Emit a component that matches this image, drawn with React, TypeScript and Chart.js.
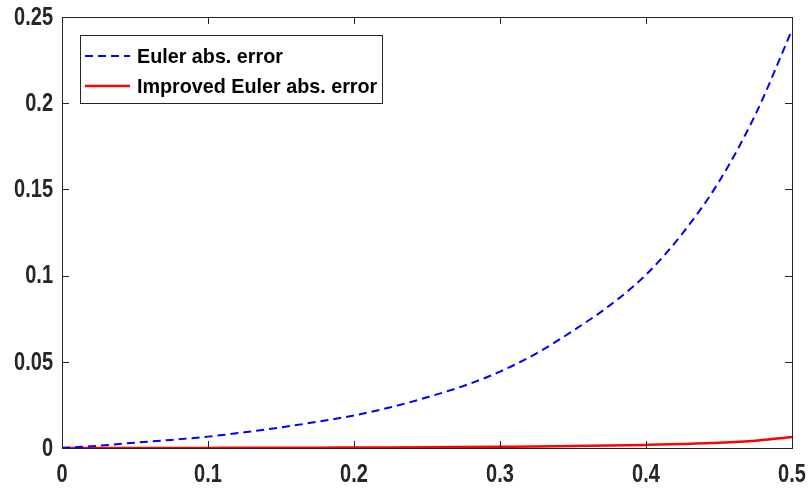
import React, { useEffect, useRef } from "react";
import { Chart, registerables } from "chart.js";

Chart.register(...registerables);

const xValues = [0, 0.025, 0.05, 0.075, 0.1, 0.125, 0.15, 0.175, 0.2, 0.225, 0.25, 0.275, 0.3, 0.325, 0.35, 0.375, 0.4, 0.425, 0.45, 0.475, 0.5];
const eulerError = [0, 0.0013, 0.0031, 0.0047, 0.0066, 0.0091, 0.012, 0.0152, 0.0189, 0.0236, 0.0294, 0.036, 0.0443, 0.0549, 0.068, 0.0826, 0.1005, 0.1245, 0.1545, 0.1935, 0.2425];
const improvedError = [0, 0.00001, 0.00002, 0.00004, 0.00007, 0.0001, 0.00014, 0.0002, 0.00027, 0.00035, 0.00045, 0.00057, 0.00071, 0.00087, 0.0011, 0.0014, 0.0018, 0.0023, 0.003, 0.0042, 0.0064];
const xTickLabels = ["0", "0.1", "0.2", "0.3", "0.4", "0.5"];
const yTickLabels = ["0", "0.05", "0.1", "0.15", "0.2", "0.25"];
const seriesLabels = ["Euler abs. error", "Improved Euler abs. error"];

const FONT = "'Liberation Sans', Arial, Helvetica, sans-serif";
const AXIS_COLOR = "#262626";
const TICK_FONT_SIZE = 25;
const TICK_SQUEEZE = 0.8;
const LEGEND_FONT_SIZE = 21;
const LEGEND_SQUEEZE = 0.94;

function squeezedText(ctx: CanvasRenderingContext2D, text: string, x: number, y: number, s: number) {
  ctx.save();
  ctx.translate(x, y);
  ctx.scale(s, 1);
  ctx.fillText(text, 0, 0);
  ctx.restore();
}

const boxPlugin = {
  id: "matlabBox",
  afterDraw(chart: any) {
    const { ctx, chartArea } = chart;
    const { left, right, top, bottom } = chartArea;
    const xs = chart.scales.x;
    const ys = chart.scales.y;
    ctx.save();
    ctx.strokeStyle = AXIS_COLOR;
    ctx.lineWidth = 1;
    const tl = 7;
    ctx.beginPath();
    xs.ticks.forEach((t: any) => {
      const px = Math.round(xs.getPixelForValue(t.value)) + 0.5;
      ctx.moveTo(px, bottom);
      ctx.lineTo(px, bottom - tl);
      ctx.moveTo(px, top);
      ctx.lineTo(px, top + tl);
    });
    ys.ticks.forEach((t: any) => {
      const py = Math.round(ys.getPixelForValue(t.value)) + 0.5;
      ctx.moveTo(left, py);
      ctx.lineTo(left + tl, py);
      ctx.moveTo(right, py);
      ctx.lineTo(right - tl, py);
    });
    ctx.stroke();
    ctx.strokeRect(Math.round(left) + 0.5, Math.round(top) + 0.5, Math.round(right - left), Math.round(bottom - top));

    // tick labels (narrow, tall MATLAB-style)
    ctx.fillStyle = AXIS_COLOR;
    ctx.font = `bold ${TICK_FONT_SIZE}px ${FONT}`;
    ctx.textBaseline = "middle";
    ctx.textAlign = "center";
    xs.ticks.forEach((t: any, i: number) => {
      const px = xs.getPixelForValue(t.value);
      squeezedText(ctx, xTickLabels[i] ?? String(t.value), px, bottom + 27, TICK_SQUEEZE);
    });
    ctx.textAlign = "right";
    ys.ticks.forEach((t: any, i: number) => {
      const py = ys.getPixelForValue(t.value);
      squeezedText(ctx, yTickLabels[i] ?? String(t.value), left - 9, py + 1, TICK_SQUEEZE);
    });

    // legend
    const lx = left + 18;
    const ly = top + 18;
    const lw = 302;
    const lh = 68;
    ctx.fillStyle = "#ffffff";
    ctx.fillRect(lx, ly, lw, lh);
    ctx.strokeStyle = AXIS_COLOR;
    ctx.lineWidth = 1;
    ctx.strokeRect(Math.round(lx) + 0.5, Math.round(ly) + 0.5, lw, lh);
    ctx.font = `bold ${LEGEND_FONT_SIZE}px ${FONT}`;
    ctx.textBaseline = "middle";
    ctx.textAlign = "left";
    chart.data.datasets.forEach((ds: any, i: number) => {
      const rowY = ly + 21 + i * 30;
      ctx.beginPath();
      ctx.strokeStyle = ds.borderColor;
      ctx.lineWidth = ds.borderWidth;
      ctx.setLineDash(ds.borderDash || []);
      ctx.moveTo(lx + 5, rowY);
      ctx.lineTo(lx + 50, rowY);
      ctx.stroke();
      ctx.setLineDash([]);
      ctx.fillStyle = "#000000";
      squeezedText(ctx, ds.label, lx + 57, rowY + 1, LEGEND_SQUEEZE);
    });
    ctx.restore();
  },
};

export default function App() {
  const canvasRef = useRef<HTMLCanvasElement | null>(null);

  useEffect(() => {
    document.body.style.margin = "0";
    const canvas = canvasRef.current;
    if (!canvas) return;
    const chart = new Chart(canvas, {
      type: "line",
      data: {
        datasets: [
          {
            label: seriesLabels[0],
            data: xValues.map((x, i) => ({ x, y: eulerError[i] })),
            borderColor: "#0000ff",
            borderWidth: 2,
            borderDash: [8, 5],
            pointRadius: 0,
            cubicInterpolationMode: "monotone",
            fill: false,
          },
          {
            label: seriesLabels[1],
            data: xValues.map((x, i) => ({ x, y: improvedError[i] })),
            borderColor: "#ff0000",
            borderWidth: 2.5,
            pointRadius: 0,
            cubicInterpolationMode: "monotone",
            fill: false,
          },
        ],
      },
      options: {
        animation: false,
        responsive: false,
        maintainAspectRatio: false,
        layout: { padding: { top: 17, right: 17, left: 0, bottom: 0 } },
        plugins: { legend: { display: false }, tooltip: { enabled: false } },
        scales: {
          x: {
            type: "linear",
            min: 0,
            max: 0.5,
            border: { display: false },
            grid: { display: false, drawTicks: false },
            ticks: { stepSize: 0.1, display: false },
            afterFit: (scale: any) => {
              scale.height = 41;
              scale.paddingLeft = 0;
              scale.paddingRight = 0;
            },
          },
          y: {
            type: "linear",
            min: 0,
            max: 0.25,
            border: { display: false },
            grid: { display: false, drawTicks: false },
            ticks: { stepSize: 0.05, display: false },
            afterFit: (scale: any) => {
              scale.width = 62;
              scale.paddingTop = 0;
              scale.paddingBottom = 0;
            },
          },
        },
      },
      plugins: [boxPlugin],
    } as any);
    return () => chart.destroy();
  }, []);

  return (
    <div style={{ position: "fixed", left: 0, top: 0, width: 809, height: 489, background: "#fff" }}>
      <canvas ref={canvasRef} width={809} height={489} style={{ width: 809, height: 489 }} />
    </div>
  );
}
